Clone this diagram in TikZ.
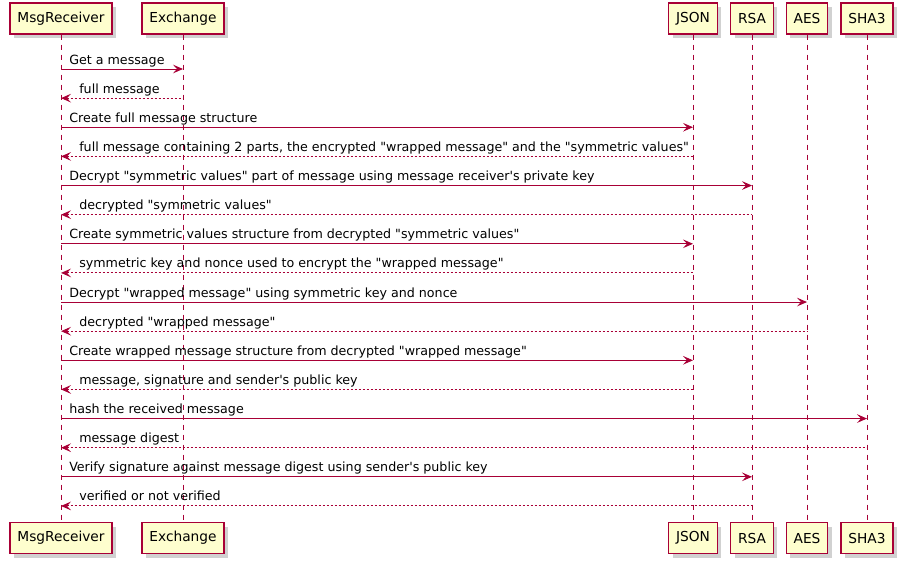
\documentclass[tikz,border=0pt]{standalone}
\usepackage{fontspec}
\usepackage{tikz}
\usetikzlibrary{arrows.meta,shadows}
\newfontfamily\umlfont{DejaVu Sans}
\definecolor{umlred}{HTML}{A80036}
\definecolor{umlfill}{HTML}{FEFECE}

\begin{document}
\begin{tikzpicture}[x=0.75pt,y=-0.75pt,
  partbox/.style={draw=umlred,fill=umlfill,line width=1.1pt,minimum height=23.25pt,inner xsep=5.5pt,
    font=\umlfont\fontsize{10.3pt}{12pt}\selectfont,
    drop shadow={shadow xshift=3pt,shadow yshift=-3pt,fill=black!30,opacity=.6}},
  lifeline/.style={umlred,line width=0.75pt,dash pattern=on 3.75pt off 3.75pt},
  msgcall/.style={umlred,line width=0.75pt,-{Stealth[length=7.5pt,width=6.5pt,inset=3pt]}},
  msgret/.style={umlred,line width=0.75pt,dash pattern=on 1.5pt off 1.5pt,{Stealth[length=7.5pt,width=6.5pt,inset=3pt]}-},
  msglbl/.style={anchor=base west,inner sep=0pt,font=\umlfont\fontsize{9.5pt}{12pt}\selectfont}]

  \useasboundingbox (0,0) rectangle (902,564);

  % participants, top and bottom, with their lifelines
  \foreach \nm/\xx/\txt in {recv/61/MsgReceiver, exch/183/Exchange, json/693/JSON,
                            rsa/752/RSA, aes/807/AES, sha/867/SHA3} {
    \node (\nm Top) at (\xx,18.5) [partbox] {\txt};
    \node (\nm Bot) at (\xx,538) [partbox] {\txt};
    \draw [lifeline] (\nm Top) -- (\nm Bot);
  }

  % messages
  \foreach \tgt/\sty/\dx/\txt [count=\i from 0] in {
      exch/msgcall/8/Get a message,
      exch/msgret/18/full message,
      json/msgcall/8/Create full message structure,
      json/msgret/18/{full message containing 2 parts, the encrypted "wrapped message" and the "symmetric values"},
      rsa/msgcall/8/Decrypt "symmetric values" part of message using message receiver's private key,
      rsa/msgret/18/decrypted "symmetric values",
      json/msgcall/8/Create symmetric values structure from decrypted "symmetric values",
      json/msgret/18/symmetric key and nonce used to encrypt the "wrapped message",
      aes/msgcall/8/Decrypt "wrapped message" using symmetric key and nonce,
      aes/msgret/18/decrypted "wrapped message",
      json/msgcall/8/Create wrapped message structure from decrypted "wrapped message",
      json/msgret/18/{message, signature and sender's public key},
      sha/msgcall/8/hash the received message,
      sha/msgret/18/message digest,
      rsa/msgcall/8/Verify signature against message digest using sender's public key,
      rsa/msgret/18/verified or not verified} {
    \pgfmathsetmacro\yy{69+29.13*\i}
    \draw [\sty] (recvTop |- 0,\yy) -- (\tgt Top |- 0,\yy);
    \path (recvTop |- 0,\yy) ++(\dx,-5) node [msglbl] {\txt};
  }
\end{tikzpicture}
\end{document}
